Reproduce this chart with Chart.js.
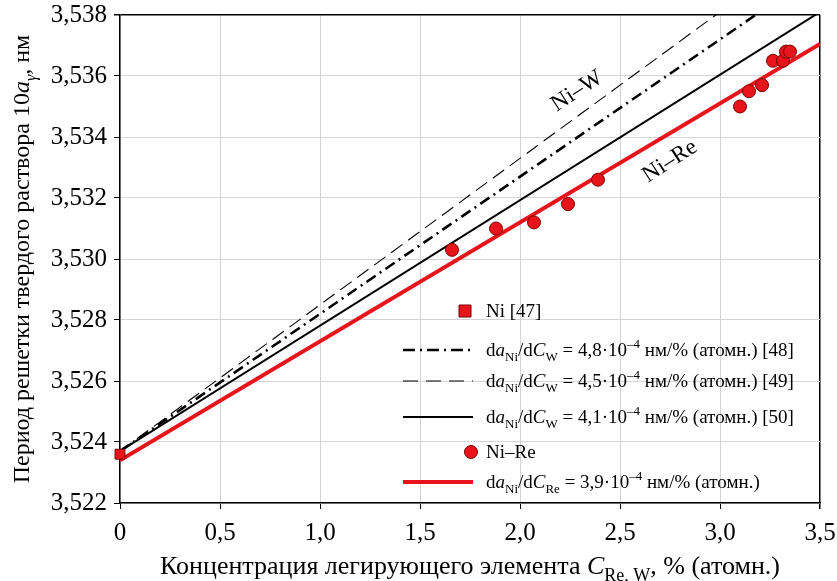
<!DOCTYPE html>
<html>
<head>
<meta charset="utf-8">
<script src="https://cdn.jsdelivr.net/npm/chart.js@4.4.1/dist/chart.umd.min.js"></script>
<style>
  html, body { margin: 0; padding: 0; background: #fff; }
  #wrap { width: 837px; height: 581px; }
</style>
</head>
<body>
<div id="wrap"><canvas id="chart" width="837" height="581"></canvas></div>
<script>
const SERIF = '"Liberation Serif", "DejaVu Serif", serif';
const RED = '#e8141c';

// Ni–Re alloys: Re content, % (at.) and lattice period 10a, nm
const reConc = [1.66, 1.88, 2.07, 2.24, 2.39, 3.10, 3.145, 3.21, 3.265, 3.315, 3.33, 3.35];
const rePeriod = [3.5303, 3.5310, 3.5312, 3.5318, 3.5326, 3.5350, 3.5355, 3.5357, 3.5365, 3.5365, 3.5368, 3.5368];

// pure nickel [47]
const niConc = [0];
const niPeriod = [3.5236];

// linear dependences, values at both ends of the axis
const fitConc = [0, 3.5];
const fitW48 = [3.5237, 3.5405];
const fitW45 = [3.5237, 3.53945];
const fitW41 = [3.5237, 3.5381];
const fitRe = [3.5234, 3.53705];

const xTicks = [0, 0.5, 1, 1.5, 2, 2.5, 3, 3.5];
const yTicks = [3.522, 3.524, 3.526, 3.528, 3.530, 3.532, 3.534, 3.536, 3.538];

// curve captions along the lines
const notes = [
  { text: 'Ni–W', x: 2.285, y: 3.5355 },
  { text: 'Ni–Re', x: 2.75, y: 3.5332 }
];

const toPts = (xs, ys) => xs.map((x, i) => ({ x: x, y: ys[i] }));

// draw a run of text pieces: plain, italic, subscript, superscript
function richText(ctx, parts, x, y, size, align) {
  const items = parts.map(p => {
    const small = p.sub || p.sup;
    const fs = small ? Math.round(size * 0.68) : size;
    const font = (p.i ? 'italic ' : '') + fs + 'px ' + SERIF;
    ctx.font = font;
    const w = ctx.measureText(p.t).width;
    const dy = p.sub ? size * 0.28 : (p.sup ? -size * 0.4 : 0);
    return { t: p.t, font: font, w: w, dy: dy };
  });
  const total = items.reduce((s, it) => s + it.w, 0);
  let cx = align === 'center' ? x - total / 2 : x;
  ctx.textAlign = 'left';
  ctx.textBaseline = 'alphabetic';
  items.forEach(it => {
    ctx.font = it.font;
    ctx.fillText(it.t, cx, y + it.dy);
    cx += it.w;
  });
}

function slopeParts(el, val, ref) {
  return [
    { t: 'd' }, { t: 'a', i: 1 }, { t: 'Ni', sub: 1 }, { t: '/d' }, { t: 'C', i: 1 }, { t: el, sub: 1 },
    { t: ' = ' + val + '·10' }, { t: '–4', sup: 1 }, { t: ' нм/% (атомн.)' + ref }
  ];
}

const legendRows = [
  { kind: 'rect', y: 311, parts: [{ t: 'Ni [47]' }] },
  { kind: 'line', y: 350, dash: [12, 5, 2, 5], width: 2.6, color: '#000', parts: slopeParts('W', '4,8', ' [48]') },
  { kind: 'line', y: 381, dash: [15, 8], width: 1.2, color: '#000', parts: slopeParts('W', '4,5', ' [49]') },
  { kind: 'line', y: 417, dash: [], width: 2, color: '#000', parts: slopeParts('W', '4,1', ' [50]') },
  { kind: 'circle', y: 452, parts: [{ t: 'Ni–Re' }] },
  { kind: 'line', y: 482, dash: [], width: 4, color: RED, parts: slopeParts('Re', '3,9', '') }
];

const decor = {
  id: 'decor',
  afterDraw(chart) {
    const c = chart.ctx;
    const xs = chart.scales.x, ys = chart.scales.y;
    c.save();
    c.fillStyle = '#000';

    // axis titles
    richText(c, [
      { t: 'Концентрация легирующего элемента ' }, { t: 'C', i: 1 }, { t: 'Re, W', sub: 1 }, { t: ', % (атомн.)' }
    ], (chart.chartArea.left + chart.chartArea.right) / 2, 574, 26, 'center');

    c.save();
    c.translate(29, (chart.chartArea.top + chart.chartArea.bottom) / 2);
    c.rotate(-Math.PI / 2);
    richText(c, [
      { t: 'Период решетки твердого раствора 10' }, { t: 'a', i: 1 }, { t: 'γ', i: 1, sub: 1 }, { t: ', нм' }
    ], 0, 0, 24, 'center');
    c.restore();

    // captions along the lines
    notes.forEach(n => {
      c.save();
      c.translate(xs.getPixelForValue(n.x), ys.getPixelForValue(n.y));
      c.rotate(-33 * Math.PI / 180);
      c.font = '23px ' + SERIF;
      c.textAlign = 'center';
      c.textBaseline = 'middle';
      c.fillText(n.text, 0, 0);
      c.restore();
    });

    // legend
    const x0 = 403, x1 = 473, tx = 486;
    legendRows.forEach(r => {
      if (r.kind === 'line') {
        c.save();
        c.strokeStyle = r.color;
        c.lineWidth = r.width;
        c.setLineDash(r.dash);
        c.beginPath();
        c.moveTo(x0, r.y);
        c.lineTo(x1, r.y);
        c.stroke();
        c.restore();
      } else {
        c.save();
        c.fillStyle = RED;
        c.strokeStyle = '#7a0000';
        c.lineWidth = 1;
        c.beginPath();
        if (r.kind === 'rect') c.rect(x1 - 8 - 6, r.y - 6, 12, 12);
        else c.arc(x1 - 2, r.y, 6.5, 0, Math.PI * 2);
        c.fill();
        c.stroke();
        c.restore();
      }
      c.fillStyle = '#000';
      richText(c, r.parts, tx, r.y + 6, 19, 'left');
    });
    c.restore();
  }
};

const frameColor = max => ctx => (ctx.tick && Math.abs(ctx.tick.value - max) < 1e-9) ? '#000' : '#d4d4d4';
const frameWidth = max => ctx => (ctx.tick && Math.abs(ctx.tick.value - max) < 1e-9) ? 1.5 : 1;

const ctx = document.getElementById('chart').getContext('2d');
const chart = new Chart(ctx, {
  type: 'scatter',
  data: {
    datasets: [
      {
        label: 'Ni [47]', data: toPts(niConc, niPeriod), pointStyle: 'rect', pointRadius: 7,
        backgroundColor: RED, borderColor: '#7a0000', borderWidth: 1, clip: false, order: 0
      },
      {
        label: 'Ni–Re', data: toPts(reConc, rePeriod), pointStyle: 'circle', pointRadius: 6.5,
        backgroundColor: RED, borderColor: '#7a0000', borderWidth: 1, clip: false, order: 1
      },
      {
        label: 'Re 3,9', data: toPts(fitConc, fitRe), showLine: true, borderColor: RED, borderWidth: 4,
        pointRadius: 0, order: 2
      },
      {
        label: 'W 4,1', data: toPts(fitConc, fitW41), showLine: true, borderColor: '#000', borderWidth: 2,
        pointRadius: 0, order: 3
      },
      {
        label: 'W 4,5', data: toPts(fitConc, fitW45), showLine: true, borderColor: '#000', borderWidth: 2.6,
        borderDash: [11, 5, 2, 5], pointRadius: 0, order: 4
      },
      {
        label: 'W 4,8', data: toPts(fitConc, fitW48), showLine: true, borderColor: '#000', borderWidth: 1.1,
        borderDash: [14, 7], pointRadius: 0, order: 5
      }
    ]
  },
  options: {
    responsive: false,
    animation: false,
    layout: { padding: { left: 0, top: 15, right: 17, bottom: 0 } },
    plugins: { legend: { display: false }, tooltip: { enabled: false } },
    scales: {
      x: {
        type: 'linear', min: 0, max: 3.5,
        afterBuildTicks: s => { s.ticks = xTicks.map(v => ({ value: v })); },
        afterFit: s => { s.height = 78; s.paddingLeft = 0; s.paddingRight = 0; },
        grid: { color: frameColor(3.5), lineWidth: frameWidth(3.5), tickColor: '#000', tickLength: 6 },
        border: { color: '#000', width: 1.5 },
        ticks: {
          color: '#000', font: { family: SERIF, size: 25 }, padding: 9, maxRotation: 0,
          callback: v => v === 0 ? '0' : v.toFixed(1).replace('.', ',')
        }
      },
      y: {
        type: 'linear', min: 3.522, max: 3.538,
        afterBuildTicks: s => { s.ticks = yTicks.map(v => ({ value: v })); },
        afterFit: s => { s.width = 120; s.paddingTop = 0; s.paddingBottom = 0; },
        grid: { color: frameColor(3.538), lineWidth: frameWidth(3.538), tickColor: '#000', tickLength: 6 },
        border: { color: '#000', width: 1.5 },
        ticks: {
          color: '#000', font: { family: SERIF, size: 25 }, padding: 7,
          callback: v => v.toFixed(3).replace('.', ',')
        }
      }
    }
  },
  plugins: [decor]
});
</script>
</body>
</html>
